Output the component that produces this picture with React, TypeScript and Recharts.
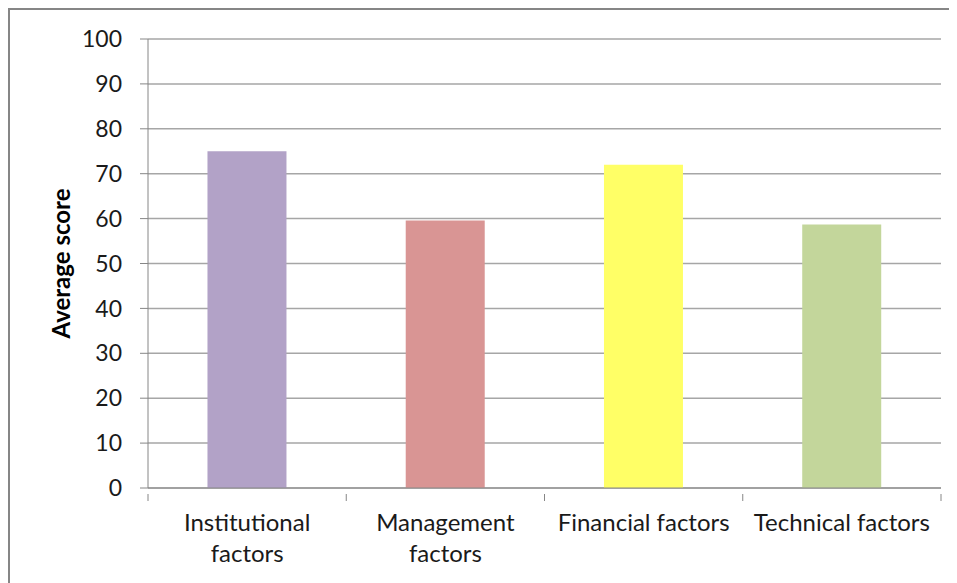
import React from 'react';
import { BarChart, Bar, XAxis, YAxis, CartesianGrid, Cell, Label } from 'recharts';

const categories = ['Institutional factors', 'Management factors', 'Financial factors', 'Technical factors'];
const tickLines = [['Institutional', 'factors'], ['Management', 'factors'], ['Financial factors'], ['Technical factors']];
const scores = [75, 59.6, 72, 58.7];
const barColors = ['#b2a2c7', '#d99594', '#ffff66', '#c3d69b'];
const yTicks = [0, 10, 20, 30, 40, 50, 60, 70, 80, 90, 100];

const data = categories.map((name, i) => ({ name, score: scores[i] }));

const FONT = 'Lato, "Open Sans", sans-serif';
const AXIS = '#868686';

const CategoryTick = (props: any) => {
  const { x, y, index, visibleTicksCount } = props;
  const band = 793 / categories.length;
  const lines = tickLines[index] || [];
  return (
    <g>
      <line x1={x - band / 2} y1={y - 16} x2={x - band / 2} y2={y - 9} stroke={AXIS} />
      {index === visibleTicksCount - 1 && (
        <line x1={x + band / 2} y1={y - 16} x2={x + band / 2} y2={y - 9} stroke={AXIS} />
      )}
      {lines.map((t, i) => (
        <text key={i} x={x} y={y + 21 + i * 31} textAnchor="middle" fill="#1a1a1a" fontSize={24} fontFamily={FONT}>
          {t}
        </text>
      ))}
    </g>
  );
};

const App: React.FC = () => {
  return (
    <div style={{ width: 949, height: 575, borderTop: `2px solid ${AXIS}`, borderLeft: `2px solid ${AXIS}`, boxSizing: 'border-box', background: '#fff' }}>
      <BarChart width={947} height={573} data={data} margin={{ top: 29, right: 16, bottom: 65, left: 0 }} barCategoryGap="30%">
        <CartesianGrid vertical={false} stroke="#a6a6a6" strokeWidth={1.5} />
        <XAxis dataKey="name" height={30} tickLine={false} axisLine={{ stroke: AXIS }} tick={<CategoryTick />} tickMargin={16} interval={0} />
        <YAxis
          width={138}
          domain={[0, 100]}
          ticks={yTicks}
          interval={0}
          tickSize={8}
          tickMargin={18}
          axisLine={{ stroke: AXIS }}
          tickLine={{ stroke: AXIS }}
          tick={{ fill: '#1a1a1a', fontSize: 23, fontFamily: FONT }}
        >
          <Label
            content={({ viewBox }: any) => {
              const cx = viewBox.x + 50;
              const cy = viewBox.y + viewBox.height / 2;
              return (
                <text x={cx} y={cy} transform={`rotate(-90 ${cx} ${cy})`} textAnchor="middle" dominantBaseline="central" fontSize={24} fontWeight="bold" fill="#000" fontFamily={FONT}>
                  Average score
                </text>
              );
            }}
          />
        </YAxis>
        <Bar dataKey="score" isAnimationActive={false}>
          {data.map((d, i) => (
            <Cell key={d.name} fill={barColors[i]} />
          ))}
        </Bar>
      </BarChart>
    </div>
  );
};

export default App;
